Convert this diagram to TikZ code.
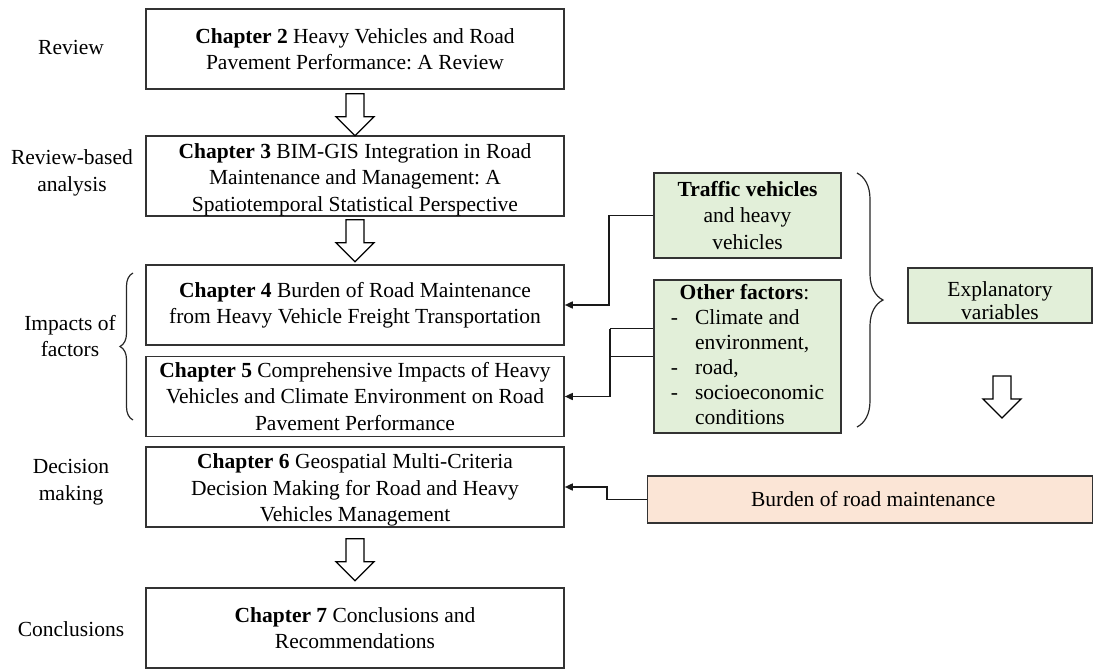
\documentclass[tikz,border=0pt]{standalone}
\usepackage{fontspec}
\setmainfont{Liberation Serif}
\frenchspacing
\usetikzlibrary{arrows.meta,calc,decorations.pathreplacing}
\definecolor{boxgreen}{HTML}{E2EFD9}
\definecolor{boxpeach}{HTML}{FBE5D6}
\definecolor{edge}{HTML}{333333}
\newcommand{\topstrut}[1]{\rule{0pt}{#1}}
\begin{document}
\begin{tikzpicture}[x=1pt,y=-1pt,
  txt/.style={font=\fontsize{21.5}{26.5}\selectfont, align=center, inner sep=0pt},
  chapbox/.style={txt, draw=edge, line width=1.6pt, minimum width=418, minimum height=80},
  sidebox/.style={txt, draw=edge, line width=1.6pt, fill=boxgreen},
  conn/.style={draw=black!90, line width=1.6pt, -{Triangle[length=8pt,width=7pt]}},
  plain/.style={draw=black!90, line width=1.6pt},
  bracestyle/.style={draw=black!85, line width=1.2pt, decorate},
  blockdown/.pic={\draw[fill=white, line width=1.3pt, line join=miter]
      (-9,0) -- (9,0) -- (9,23) -- (19,23) -- (0,42) -- (-19,23) -- (-9,23) -- cycle;}
]
\useasboundingbox (0,0) rectangle (1093,669);

% chapter boxes
\node[chapbox] (ch2) at (355,49) {\textbf{Chapter 2} Heavy Vehicles and Road\\Pavement Performance: A Review};
\node[chapbox] (ch3) at (355,176) {\topstrut{22pt}\textbf{Chapter 3} BIM-GIS Integration in Road\\Maintenance and Management: A\\Spatiotemporal Statistical Perspective};
\node[chapbox] (ch4) at (355,305) {\textbf{Chapter 4} Burden of Road Maintenance\\from Heavy Vehicle Freight Transportation};
\node[chapbox] (ch5) at (355,396.5) {\textbf{Chapter 5} Comprehensive Impacts of Heavy\\Vehicles and Climate Environment on Road\\Pavement Performance};
\node[chapbox] (ch6) at (355,487) {\topstrut{21pt}\textbf{Chapter 6} Geospatial Multi-Criteria\\Decision Making for Road and Heavy\\Vehicles Management};
\node[chapbox] (ch7) at (355,628) {\textbf{Chapter 7} Conclusions and\\Recommendations};

% stage labels
\node[txt] (lrev) at (71,47) {Review};
\node[txt] (lrba) at (72,173) {Review-based\\analysis};
\node[txt] (limp) at (70,336) {Impacts of\\factors};
\node[txt] (ldec) at (71,482) {Decision\\making};
\node[txt] (lcon) at (71,629) {Conclusions};

% block arrows between chapters
\pic at ($(ch2.south)+(0,4)$) {blockdown};
\pic at ($(ch3.south)+(0,3)$) {blockdown};
\pic at ($(ch6.south)+(0,11)$) {blockdown};

% brace grouping chapters 4 and 5
\coordinate (lb1) at (133,420);
\coordinate (lb2) at (133,273);
\draw[bracestyle, decoration={brace, amplitude=13pt}] (lb1) -- (lb2);

% explanatory variable boxes
\node[sidebox, minimum width=187, minimum height=85] (tv) at (747.5,215.5)
  {\textbf{Traffic vehicles}\\and heavy\\vehicles};
\node[sidebox, minimum width=187, minimum height=153, align=left] (of) at (747.5,356.5)
  {\begin{tabular}{@{}l@{\hspace{17pt}}l@{}}
   \multicolumn{2}{c}{\hspace{-6pt}\textbf{Other factors}:}\\[-1.5pt]
   - & Climate and\\[-1.5pt]
     & environment,\\[-1.5pt]
   - & road,\\[-1.5pt]
   - & socioeconomic\\[-1.5pt]
     & conditions
   \end{tabular}};

% large brace and summary box
\coordinate (rb1) at (857,173);
\coordinate (rb2) at (857,427);
\draw[bracestyle, decoration={brace, amplitude=26pt}] (rb1) -- (rb2);
\node[sidebox, minimum width=184, minimum height=55, line width=1.4pt] (ev) at (1000,295.5) {};
\node[txt, font=\fontsize{21.5}{23}\selectfont] (evt) at (1000,301) {Explanatory\\variables};
\pic at (1002,376) {blockdown};

\node[sidebox, fill=boxpeach, minimum width=445, minimum height=47, line width=1.4pt, anchor=west] (bm) at (647,499.5)
  {\hspace{6pt}Burden of road maintenance};

% connectors into chapters
\draw[conn] (tv.west) -- ++(-44,0) coordinate (tvj) |- (ch4.east);
\coordinate (ofa) at ($(of.west)+(0,-28)$);
\draw[plain] (ofa) -- ++(-43,0) coordinate (ofj);
\draw[plain] (of.west) -- (of.west -| ofj);
\draw[conn] (ofj) |- (ch5.east);
\draw[conn] (bm.west) -- ++(-40,0) |- (ch6.east);
\end{tikzpicture}
\end{document}
